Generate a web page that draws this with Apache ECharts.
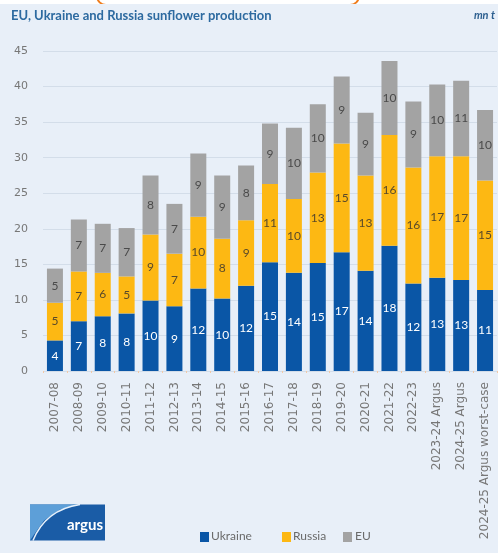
<!DOCTYPE html>
<html><head><meta charset="utf-8">
<script src="https://cdn.jsdelivr.net/npm/echarts@6/dist/echarts.min.js"></script>
<style>html,body{margin:0;padding:0;background:#ffffff}#c{width:498px;height:553px}</style>
</head><body><div id="c"></div>
<script>
const categories = ['2007-08','2008-09','2009-10','2010-11','2011-12','2012-13','2013-14','2014-15','2015-16','2016-17','2017-18','2018-19','2019-20','2020-21','2021-22','2022-23','2023-24 Argus','2024-25 Argus','2024-25 Argus worst-case'];
const ukraine = [4.3,7.0,7.7,8.1,9.9,9.1,11.6,10.2,12.0,15.3,13.8,15.2,16.7,14.1,17.6,12.3,13.1,12.8,11.4];
const russia  = [5.3,7.0,6.1,5.2,9.3,7.4,10.1,8.4,9.2,11.0,10.4,12.7,15.3,13.4,15.6,16.3,17.1,17.4,15.4];
const eu      = [4.8,7.3,6.9,6.8,8.3,7.0,8.9,8.9,7.7,8.5,10.0,9.6,9.4,8.8,10.4,9.3,10.1,10.6,9.9];
const yTicks = [0,5,10,15,20,25,30,35,40,45];

const chart = echarts.init(document.getElementById('c'));
function mk(name, data, color, labelColor){
  return {name, type:'bar', stack:'t', data, barWidth:16,
    itemStyle:{color},
    label:{show:true, position:'inside', color:labelColor, fontSize:12, fontFamily:'Lato',
      formatter:p=>Math.round(p.value)}};
}
chart.setOption({
  backgroundColor:'#ffffff',
  animation:false,
  grid:{left:43, right:1, top:51, bottom:182, containLabel:false},
  xAxis:{type:'category', data:categories,
    axisLine:{show:false}, axisTick:{show:true, alignWithLabel:false, length:2, lineStyle:{color:'#f3c9a6'}},
    axisLabel:{rotate:90, color:'#777777', fontSize:12, fontFamily:'DejaVu Sans', margin:11, interval:0}},
  yAxis:{type:'value', min:0, max:45, interval:5,
    axisLabel:{color:'#777777', fontSize:11, fontFamily:'DejaVu Sans', margin:15, formatter:v=>yTicks.includes(v)?String(v):''},
    splitLine:{lineStyle:{color:'#d3dde9', width:1}}},
  legend:{show:false},
  series:[mk('Ukraine',ukraine,'#0a56a6','#ffffff'), mk('Russia',russia,'#fdb813','#5a4a2a'), mk('EU',eu,'#a3a3a3','#4a4a4a')],
  graphic:[
    {type:'rect', z:-20, shape:{x:97, y:-30, width:262, height:35, r:9}, style:{fill:'none', stroke:'#f07d1c', lineWidth:2}},
    {type:'rect', z:-10, shape:{x:0, y:4, width:498, height:549}, style:{fill:'#e8eff8'}},
    {type:'text', left:11, top:9, style:{text:'EU, Ukraine and Russia sunflower production', fill:'#2d6aa0', font:'bold 13px Lato'}},
    {type:'text', right:3, top:10, style:{text:'mn t', fill:'#2d5f8f', font:'italic bold 11px Lato'}},
    {type:'group', left:30, top:502, children:[
      {type:'rect', shape:{x:0,y:0,width:75,height:36}, style:{fill:'#1a5ca6'}},
      {type:'polygon', shape:{points:[[0,0],[48,0],[30,5],[14,16],[4,30],[0,36]]}, style:{fill:'#5d9fd8'}},
      {type:'bezierCurve', shape:{x1:3,y1:36,x2:50,y2:0,cpx1:12,cpy1:14,cpx2:30,cpy2:3}, style:{stroke:'#e7f1fb', lineWidth:1.5, fill:'none'}},
      {type:'text', x:37, y:13, style:{text:'argus', fill:'#ffffff', font:'bold 15px Lato'}}
    ]},
    {type:'group', left:200, top:530, children:[
      {type:'rect', shape:{x:0,y:2,width:9,height:10}, style:{fill:'#0a56a6'}},
      {type:'text', x:11, y:0, style:{text:'Ukraine', fill:'#6a6a6a', font:'12px Lato'}},
      {type:'rect', shape:{x:82,y:2,width:9,height:10}, style:{fill:'#fdb813'}},
      {type:'text', x:93, y:0, style:{text:'Russia', fill:'#6a6a6a', font:'12px Lato'}},
      {type:'rect', shape:{x:143,y:2,width:9,height:10}, style:{fill:'#a3a3a3'}},
      {type:'text', x:155, y:0, style:{text:'EU', fill:'#6a6a6a', font:'12px Lato'}}
    ]}
  ]
});
</script></body></html>
